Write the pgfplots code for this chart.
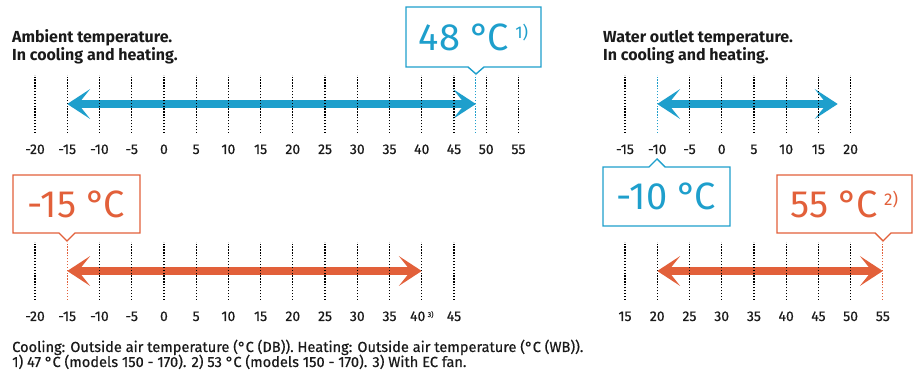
\documentclass[border=0pt]{standalone}
\usepackage{fontspec}
\setmainfont{Fira Sans}
\newfontfamily\medfont{Fira Sans}[FakeBold=0.6]
\usepackage{pgfplots}
\pgfplotsset{compat=1.18}
\usetikzlibrary{arrows.meta}
\definecolor{cblue}{HTML}{1E9FCC}
\definecolor{corange}{HTML}{E2603A}
\definecolor{tick}{HTML}{1A1A1A}
\pgfplotsset{
  tempaxis/.style={
    x=6.446pt, y=58pt, ymin=0, ymax=1,
    axis line style={draw=none}, tick style={draw=none},
    ytick=\empty, clip=false, anchor=south west,
    xticklabel style={font=\medfont\fontsize{14}{16}\selectfont, anchor=base, yshift=-21pt, text=tick},
  },
  gridl/.style={ycomb, no marks, black, line width=1.3pt, line cap=butt, dash pattern=on 1.3pt off 1.6pt},
  coldot/.style={no marks, line width=1.1pt, line cap=butt, dash pattern=on 1.3pt off 1.6pt},
  arr/.style={no marks, line width=8pt, {Stealth[length=23pt,width=30pt,inset=12pt,line width=0pt]}-{Stealth[length=23pt,width=30pt,inset=12pt,line width=0pt]}},
}
\newcommand{\bignum}{\fontsize{38}{40}\selectfont}
\newcommand{\degc}{°\kern-0.06em C}
\newcommand{\supn}[1]{\raisebox{12pt}{\fontsize{17}{18}\selectfont #1}}
\newcommand{\ttl}{\fontsize{16}{18}\selectfont\bfseries}
\begin{document}
\begin{tikzpicture}[x=1pt,y=1pt]
\path[use as bounding box] (0,0) rectangle (916,374);

% titles
\node[anchor=base west, inner sep=0, font=\ttl, text=tick] at (12,331) {Ambient temperature.};
\node[anchor=base west, inner sep=0, font=\ttl, text=tick] at (12,313) {In cooling and heating.};
\node[anchor=base west, inner sep=0, font=\ttl, text=tick] at (603,331) {Water outlet temperature.};
\node[anchor=base west, inner sep=0, font=\ttl, text=tick] at (603,313) {In cooling and heating.};

% top-left: ambient cooling
\begin{axis}[tempaxis, at={(35pt,241pt)}, xmin=-20, xmax=55,
  xtick={-20,-15,-10,-5,0,5,10,15,20,25,30,35,40,45,50,55},
  xticklabels={-20,-15,-10,-5,0,5,10,15,20,25,30,35,40,45,50,55}]
\addplot[arr, cblue] coordinates {(-15,0.5) (48.4,0.5)};
\addplot[gridl] coordinates {(-20,1) (-15,1) (-10,1) (-5,1) (0,1) (5,1) (10,1) (15,1) (20,1) (25,1) (30,1) (35,1) (40,1) (45,1) (50,1) (55,1)};
\addplot[coldot, cblue] coordinates {(48.4,0) (48.4,1)};
\end{axis}

% bottom-left: ambient heating
\begin{axis}[tempaxis, at={(35pt,74pt)}, xmin=-20, xmax=45,
  xtick={-20,-15,-10,-5,0,5,10,15,20,25,30,35,40,45},
  xticklabels={-20,-15,-10,-5,0,5,10,15,20,25,30,35,{40\,\raisebox{4pt}{\fontsize{7}{8}\selectfont 3)}},45}]
\addplot[arr, corange] coordinates {(-15,0.5) (40,0.5)};
\addplot[gridl] coordinates {(-20,1) (-10,1) (-5,1) (0,1) (5,1) (10,1) (15,1) (20,1) (25,1) (30,1) (35,1) (40,1) (45,1)};
\addplot[coldot, corange] coordinates {(-15,0) (-15,1)};
\end{axis}

% top-right: water cooling
\begin{axis}[tempaxis, at={(625pt,241pt)}, xmin=-15, xmax=20,
  xtick={-15,-10,-5,0,5,10,15,20},
  xticklabels={-15,-10,-5,0,5,10,15,20}]
\addplot[arr, cblue] coordinates {(-10,0.5) (18,0.5)};
\addplot[gridl] coordinates {(-15,1) (-5,1) (0,1) (5,1) (10,1) (15,1) (20,1)};
\addplot[coldot, cblue] coordinates {(-10,0) (-10,1)};
\end{axis}

% bottom-right: water heating
\begin{axis}[tempaxis, at={(625pt,74pt)}, xmin=15, xmax=55,
  xtick={15,20,25,30,35,40,45,50,55},
  xticklabels={15,20,25,30,35,40,45,50,55}]
\addplot[arr, corange] coordinates {(20,0.5) (55,0.5)};
\addplot[gridl] coordinates {(15,1) (20,1) (25,1) (30,1) (35,1) (40,1) (45,1) (50,1)};
\addplot[coldot, corange] coordinates {(55,0) (55,1)};
\end{axis}

% callout boxes
\draw[cblue, line width=1.4pt, fill=white, line join=miter] (406,307) -- (468,307) -- (476,300) -- (484,307) -- (541,307) -- (541,367) -- (406,367) -- cycle;
\node[text=cblue, inner sep=0] at (473.5,337) {\bignum 48 \degc\,\supn{1)}};

\draw[corange, line width=1.4pt, fill=white, line join=miter] (13,141) -- (59,141) -- (67,133) -- (75,141) -- (140,141) -- (140,199) -- (13,199) -- cycle;
\node[text=corange, inner sep=0] at (76.5,170) {\bignum -15 \degc};

\draw[cblue, line width=1.4pt, fill=white, line join=miter] (603,207) -- (649,207) -- (657,215) -- (665,207) -- (730,207) -- (730,148) -- (603,148) -- cycle;
\node[text=cblue, inner sep=0] at (666.5,177.5) {\bignum -10 \degc};

\draw[corange, line width=1.4pt, fill=white, line join=miter] (777,141) -- (875,141) -- (883,133) -- (891,141) -- (912,141) -- (912,199) -- (777,199) -- cycle;
\node[text=corange, inner sep=0] at (844.5,170) {\bignum 55 \degc\,\supn{2)}};

% footnote
\node[anchor=base west, inner sep=0, font=\medfont\fontsize{14.6}{16}\selectfont, text=tick] at (12,22) {Cooling: Outside air temperature (°C (DB)). Heating: Outside air temperature (°C (WB)).};
\node[anchor=base west, inner sep=0, font=\medfont\fontsize{14.6}{16}\selectfont, text=tick] at (12,7) {1) 47 °C (models 150 - 170). 2) 53 °C (models 150 - 170). 3) With EC fan.};
\end{tikzpicture}
\end{document}
